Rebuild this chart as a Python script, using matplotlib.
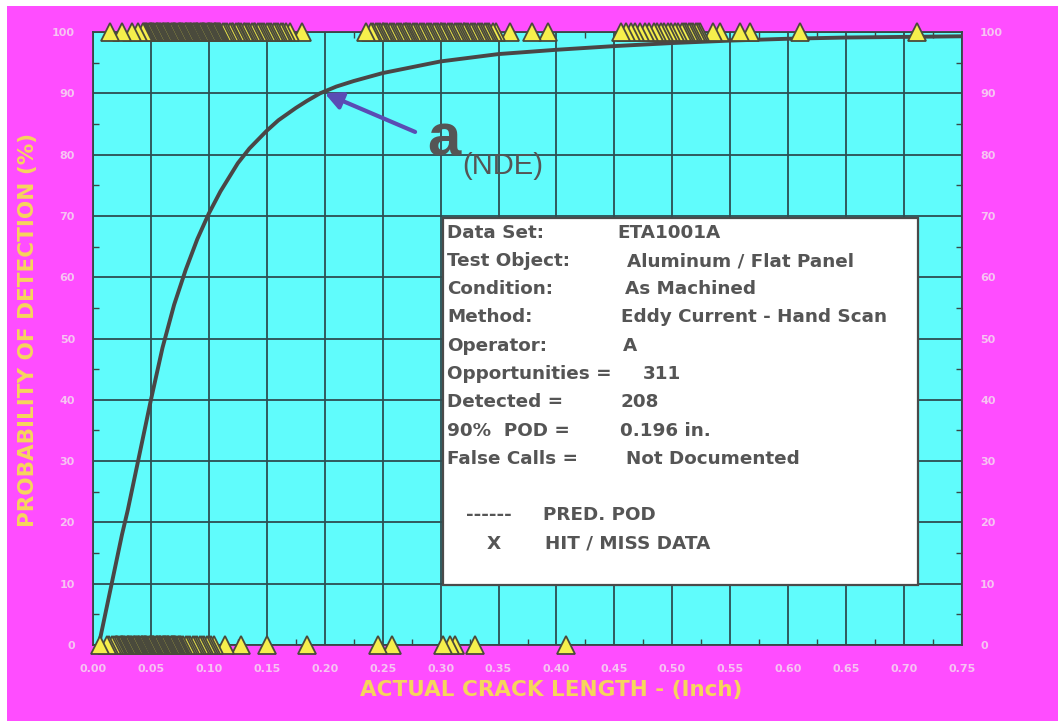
import matplotlib
matplotlib.use("Agg")
import matplotlib.pyplot as plt
from matplotlib.patches import Rectangle
from matplotlib.ticker import MultipleLocator, FormatStrFormatter

# ---- data -------------------------------------------------------------
# predicted POD curve (crack length in inches, POD in percent)
curve_x = [0.005, 0.010, 0.015, 0.020, 0.025, 0.030, 0.040, 0.050, 0.060,
           0.070, 0.080, 0.090, 0.100, 0.110, 0.125, 0.135, 0.150, 0.160,
           0.175, 0.185, 0.196, 0.210, 0.225, 0.250, 0.300, 0.350, 0.400,
           0.450, 0.500, 0.550, 0.600, 0.650, 0.700, 0.750]
curve_pod = [0.0, 4.5, 9.0, 13.5, 18.0, 22.0, 31.0, 40.0, 48.5,
             55.5, 61.2, 66.2, 70.4, 74.0, 78.6, 81.0, 83.9, 85.6,
             87.6, 88.8, 90.0, 91.1, 92.0, 93.3, 95.2, 96.4, 97.1,
             97.7, 98.2, 98.6, 98.9, 99.1, 99.2, 99.3]

# hit (detected) crack lengths, plotted at 100 %
hits = [
    0.015, 0.025, 0.034, 0.039, 0.043, 0.044, 0.045, 0.046, 0.047, 0.048,
    0.049, 0.050, 0.051, 0.052, 0.053, 0.054, 0.055, 0.056, 0.057, 0.058,
    0.059, 0.060, 0.061, 0.062, 0.063, 0.064, 0.065, 0.066, 0.067, 0.068,
    0.069, 0.070, 0.071, 0.072, 0.073, 0.074, 0.075, 0.076, 0.077, 0.078,
    0.079, 0.080, 0.081, 0.082, 0.083, 0.084, 0.085, 0.086, 0.087, 0.088,
    0.089, 0.090, 0.091, 0.092, 0.093, 0.094, 0.095, 0.096, 0.097, 0.098,
    0.099, 0.100, 0.101, 0.102, 0.103, 0.104, 0.105, 0.106, 0.107, 0.108,
    0.109, 0.110, 0.050, 0.055, 0.060, 0.065, 0.070, 0.075, 0.080, 0.085,
    0.090, 0.095, 0.100, 0.105, 0.112, 0.114, 0.116, 0.118, 0.120, 0.121,
    0.123, 0.125, 0.126, 0.128, 0.130, 0.131, 0.133, 0.135, 0.137, 0.139,
    0.140, 0.142, 0.144, 0.146, 0.148, 0.150, 0.152, 0.154, 0.156, 0.158,
    0.160, 0.162, 0.164, 0.167, 0.170, 0.180, 0.236, 0.240, 0.242, 0.244,
    0.246, 0.248, 0.250, 0.252, 0.254, 0.256, 0.258, 0.260, 0.262, 0.264,
    0.266, 0.268, 0.270, 0.272, 0.274, 0.276, 0.278, 0.280, 0.282, 0.284,
    0.286, 0.288, 0.290, 0.292, 0.294, 0.296, 0.298, 0.300, 0.302, 0.304,
    0.306, 0.308, 0.310, 0.312, 0.314, 0.316, 0.318, 0.320, 0.322, 0.324,
    0.326, 0.328, 0.330, 0.332, 0.334, 0.336, 0.338, 0.340, 0.342, 0.345,
    0.348, 0.360, 0.379, 0.393, 0.456, 0.460, 0.464, 0.468, 0.472, 0.476,
    0.480, 0.484, 0.487, 0.490, 0.493, 0.496, 0.499, 0.502, 0.505, 0.508,
    0.510, 0.512, 0.514, 0.516, 0.518, 0.520, 0.522, 0.524, 0.535, 0.541,
    0.558, 0.567, 0.610, 0.711, 0.300, 0.270, 0.250, 0.320,
]

# miss (not detected) crack lengths, plotted at 0 %
misses = [
    0.006, 0.012, 0.014, 0.016, 0.018, 0.020, 0.021, 0.022, 0.023, 0.024,
    0.025, 0.026, 0.027, 0.028, 0.029, 0.030, 0.031, 0.032, 0.033, 0.034,
    0.035, 0.036, 0.037, 0.038, 0.039, 0.040, 0.041, 0.042, 0.043, 0.044,
    0.045, 0.046, 0.047, 0.048, 0.049, 0.050, 0.051, 0.052, 0.053, 0.054,
    0.055, 0.056, 0.057, 0.058, 0.059, 0.060, 0.061, 0.062, 0.063, 0.064,
    0.065, 0.066, 0.067, 0.068, 0.069, 0.070, 0.071, 0.072, 0.073, 0.074,
    0.075, 0.076, 0.078, 0.080, 0.082, 0.084, 0.086, 0.088, 0.090, 0.092,
    0.094, 0.096, 0.098, 0.100, 0.102, 0.104, 0.030, 0.040, 0.050, 0.060,
    0.035, 0.045, 0.055, 0.065, 0.070, 0.025, 0.114, 0.128, 0.150, 0.185,
    0.246, 0.258, 0.302, 0.308, 0.312, 0.330, 0.408, 0.020, 0.042, 0.062,
    0.052, 0.058, 0.068,
]

a90 = 0.196          # crack length at 90 % POD
a90_pod = 90.0

x_ticks = [0.00, 0.05, 0.10, 0.15, 0.20, 0.25, 0.30, 0.35, 0.40, 0.45,
           0.50, 0.55, 0.60, 0.65, 0.70, 0.75]
y_ticks = [0, 10, 20, 30, 40, 50, 60, 70, 80, 90, 100]

info_labels = ["Data Set:", "Test Object:", "Condition:", "Method:",
               "Operator:", "Opportunities =", "Detected =", "90%  POD =",
               "False Calls ="]
info_values = ["ETA1001A", "Aluminum / Flat Panel", "As Machined",
               "Eddy Current - Hand Scan", "A", "311", "208",
               "0.196 in.", "Not Documented"]

# ---- style --------------------------------------------------------------
W, H = 1058, 721
MAGENTA = "#ff4dff"
CYAN = "#60fcfc"
GRID = "#2c4e52"
CURVE = "#4a4646"
TICKLBL = "#f6c4f2"
AXLBL = "#f6d55c"
TEXT = "#555555"
FONT = "DejaVu Sans"

AX_L, AX_R, AX_T, AX_B = 93, 962, 32, 645


def fig_xy(xp, yp):
    return xp / W, 1 - yp / H


def ax_xy(xp, yp):
    return (xp - AX_L) / (AX_R - AX_L), (AX_B - yp) / (AX_B - AX_T)


fig = plt.figure(figsize=(W / 100, H / 100), dpi=100, facecolor=MAGENTA)
# thin white margin along the top and left edges
fig.patches.append(Rectangle((0, 1 - 6 / H), 1, 6 / H,
                             transform=fig.transFigure, facecolor="white",
                             edgecolor="none"))
fig.patches.append(Rectangle((0, 0), 7 / W, 1,
                             transform=fig.transFigure, facecolor="white",
                             edgecolor="none"))

l, b = AX_L / W, 1 - AX_B / H
ax = fig.add_axes([l, b, (AX_R - AX_L) / W, (AX_B - AX_T) / H])
ax.set_zorder(2)
ax.set_facecolor(CYAN)
ax.set_xlim(0, 0.75)
ax.set_ylim(0, 100)

ax.set_xticks(x_ticks)
ax.set_yticks(y_ticks)
ax.xaxis.set_major_formatter(FormatStrFormatter("%.2f"))
ax.xaxis.set_minor_locator(MultipleLocator(0.025))
ax.yaxis.set_minor_locator(MultipleLocator(5))
ax.grid(True, which="major", color=GRID, lw=1.3)
ax.set_axisbelow(True)
for s in ax.spines.values():
    s.set_color("#3a4646")
    s.set_linewidth(1.3)

ax.tick_params(which="both", direction="in", color="#3a4646",
               top=True, right=True, labelleft=True, labelright=True)
ax.tick_params(which="major", length=0)
ax.tick_params(which="minor", length=4, width=1)
ax.tick_params(axis="x", which="major", pad=14, labelsize=8,
               labelcolor=TICKLBL)
ax.tick_params(axis="y", which="major", pad=13, labelsize=8,
               labelcolor=TICKLBL)
for t in ax.get_xticklabels() + ax.get_yticklabels():
    t.set_fontweight("bold")
    t.set_family(FONT)

# predicted POD curve
ax.plot(curve_x, curve_pod, color=CURVE, lw=2.8, zorder=3,
        solid_capstyle="round", solid_joinstyle="round")

# hit / miss data (drawn right to left so the overlapping edges stack)
tri = dict(marker="^", markersize=12.5, markerfacecolor="#f6ef4c",
           markeredgecolor="#4a4a3c", markeredgewidth=1.3, linestyle="none",
           clip_on=False, zorder=5)
hits_drawn = sorted(hits, reverse=True)
misses_drawn = sorted(misses, reverse=True)
ax.plot(hits_drawn, [100] * len(hits_drawn), **tri)
ax.plot(misses_drawn, [0] * len(misses_drawn), **tri)

# a90 arrow and label
ax.annotate("", xy=(a90 + 0.004, a90_pod), xytext=(0.278, 83.7),
            arrowprops=dict(arrowstyle="-|>", color="#5a4cb4", lw=3.0,
                            mutation_scale=26, shrinkA=0, shrinkB=0),
            zorder=4)
ax.text(*ax_xy(427, 140), "a", fontsize=43, fontweight="bold",
        family="Liberation Sans", color=TEXT, ha="left", va="center",
        transform=ax.transAxes, zorder=4)
ax.text(*ax_xy(462, 166), "(NDE)", fontsize=21, family="Liberation Sans",
        color=TEXT, ha="left", va="center", transform=ax.transAxes,
        zorder=4)

# information box
bx0, by0 = ax_xy(443, 585)
bx1, by1 = ax_xy(918, 218)
ax.add_patch(Rectangle((bx0, by0), bx1 - bx0, by1 - by0,
                       transform=ax.transAxes, facecolor="white",
                       edgecolor="#4a4a4a", lw=1.6, zorder=6))

row_y = [233, 261, 289, 317, 346, 374, 402, 431, 459]
val_x = [617, 627, 625, 621, 623, 643, 621, 620, 626]
txt = dict(fontsize=13.2, fontweight="bold", family=FONT, color=TEXT,
           va="center", ha="left", transform=ax.transAxes, zorder=7)
for lab, val, yp, xp in zip(info_labels, info_values, row_y, val_x):
    ax.text(*ax_xy(447, yp), lab, **txt)
    ax.text(*ax_xy(xp, yp), val, **txt)

ax.text(*ax_xy(466, 515), "------", **txt)
ax.text(*ax_xy(543, 515), "PRED. POD", **txt)
ax.text(*ax_xy(487, 544), "X", **txt)
ax.text(*ax_xy(545, 544), "HIT / MISS DATA", **txt)

# axis titles
fig.text(*fig_xy(551, 690), "ACTUAL CRACK LENGTH - (Inch)", fontsize=15.5,
         fontweight="bold", family=FONT, color=AXLBL, ha="center",
         va="center")
fig.text(*fig_xy(28, 330), "PROBABILITY OF DETECTION (%)", fontsize=15.5,
         fontweight="bold", family=FONT, color=AXLBL, ha="center",
         va="center", rotation=90)

fig.savefig("out.png", dpi=100, facecolor=fig.get_facecolor())
